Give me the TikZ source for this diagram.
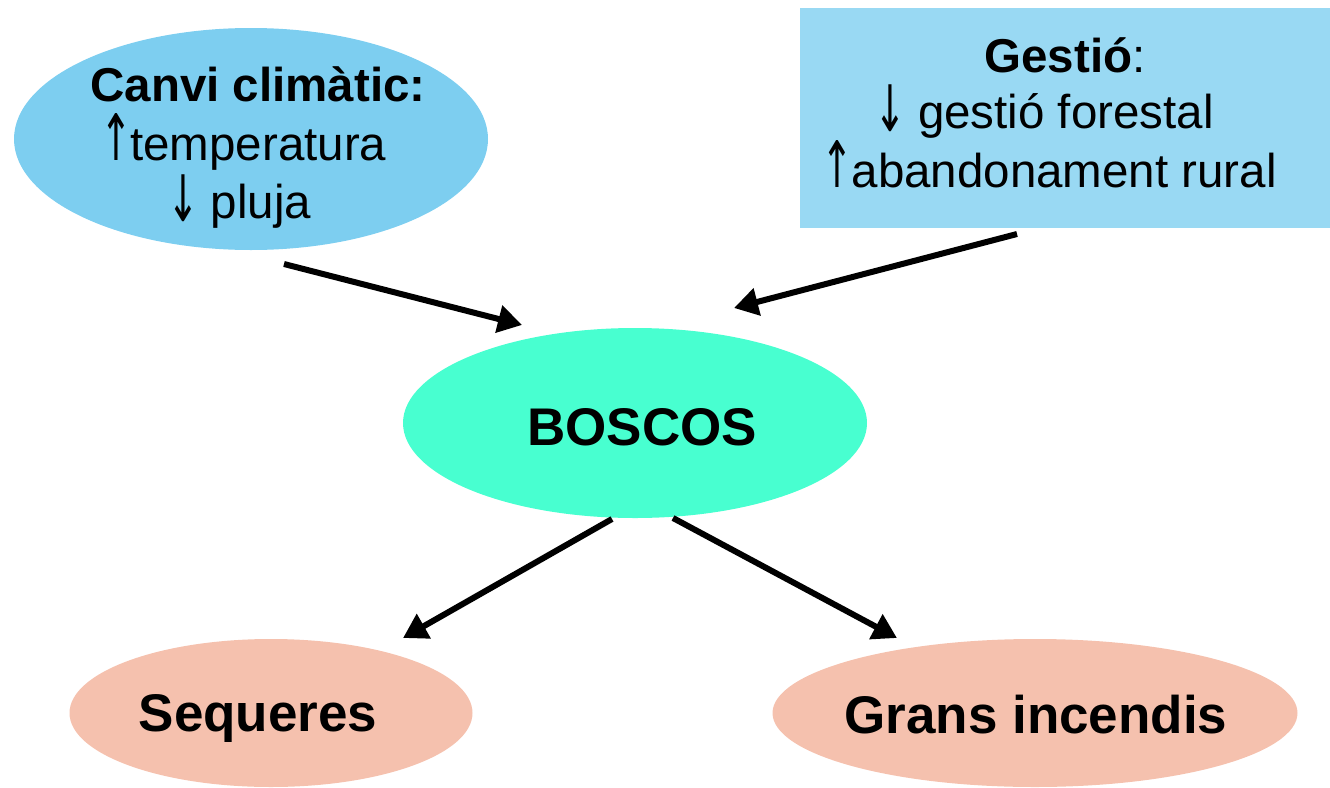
\documentclass[tikz,border=0pt]{standalone}
\usepackage{fontspec}
\setmainfont{Liberation Sans}
\newfontfamily\symf{DejaVu Sans}
\usetikzlibrary{shapes.geometric,arrows.meta}
\definecolor{climac}{RGB}{125,206,240}
\definecolor{gestioc}{RGB}{153,217,243}
\definecolor{boscosc}{RGB}{72,255,208}
\definecolor{effc}{RGB}{245,193,174}
\newcommand{\upar}{\makebox[0.6em]{\symf\scalebox{0.8}[1.35]{↑}}}
\newcommand{\dnar}{\makebox[0.6em]{\symf\raisebox{-3pt}{\scalebox{0.8}[1.35]{↓}}}}
\tikzset{
  blob/.style={ellipse, draw=none, inner sep=0pt},
  txt/.style={anchor=base, inner sep=0pt, font=\fontsize{47.5}{58}\selectfont},
  bigtxt/.style={anchor=base, inner sep=0pt, font=\fontsize{53}{60}\selectfont\bfseries},
  conn/.style={line width=6pt, -{Triangle[length=24pt,width=27pt]}}
}
\begin{document}
\begin{tikzpicture}[x=1pt,y=-1pt]
\useasboundingbox (0,0) rectangle (1330,787);
% shapes
\node[blob, fill=climac, minimum width=474pt, minimum height=222pt] (clima) at (251,139) {};
\node[fill=gestioc, draw=none, inner sep=0pt, minimum width=530pt, minimum height=220pt] (gestio) at (1065,118) {};
\node[blob, fill=boscosc, minimum width=464pt, minimum height=190pt] (boscos) at (635,423) {};
\node[blob, fill=effc, minimum width=403pt, minimum height=148pt] (seq) at (271,713) {};
\node[blob, fill=effc, minimum width=525pt, minimum height=148pt] (inc) at (1035,713) {};
% texts
\node[txt, font=\fontsize{47.5}{58}\selectfont\bfseries] (c1) at (258,101) {Canvi climàtic:};
\node[txt] (c2) at (244,160) {\upar temperatura};
\node[txt] (c3) at (240,218) {\dnar{} pluja};
\node[txt] (g1) at (1065,72) {\textbf{Gestió}:};
\node[txt] (g2) at (1045,128) {\dnar{} gestió forestal};
\node[txt] (g3) at (1050,187) {\upar abandonament rural};
\node[bigtxt] (b1) at (642,445) {BOSCOS};
\node[bigtxt] (s1) at (258,731) {Sequeres};
\node[bigtxt] (i1) at (1036,733) {Grans incendis};
% connector ends
\coordinate (a1s) at (284,264);
\coordinate (a1e) at (522,325);
\coordinate (a2s) at (1017,234);
\coordinate (a2e) at (734,308);
\coordinate (a3s) at (612,519);
\coordinate (a3e) at (403,638);
\coordinate (a4s) at (673,518);
\coordinate (a4e) at (897,638);
\draw[conn] (a1s) -- (a1e);
\draw[conn] (a2s) -- (a2e);
\draw[conn] (a3s) -- (a3e);
\draw[conn] (a4s) -- (a4e);
\end{tikzpicture}
\end{document}
